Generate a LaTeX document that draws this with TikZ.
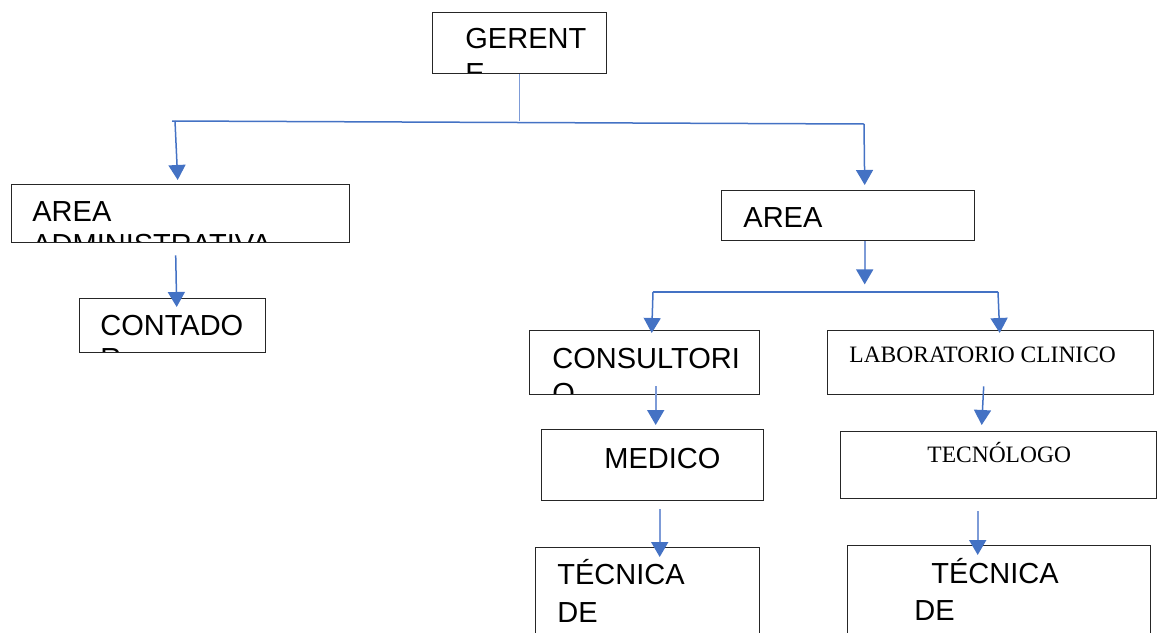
\documentclass[tikz,border=0pt]{standalone}
\usepackage{fontspec}
\setmainfont{Liberation Sans}
\newfontfamily\fuenteserif{Liberation Serif}
\usetikzlibrary{arrows.meta,positioning}
\definecolor{azul}{RGB}{68,114,196}
\definecolor{azulclaro}{RGB}{125,155,215}
\begin{document}
\begin{tikzpicture}[x=1pt,y=-1pt,
    caja/.style={draw=black!85,line width=1.4pt,inner sep=0pt,anchor=north west},
    texto/.style={draw=none,minimum width=0pt,minimum height=0pt,anchor=base west,inner sep=0pt,font=\fontsize{29pt}{35pt}\selectfont},
    textoserif/.style={texto,font=\fuenteserif\fontsize{23.5pt}{28pt}\selectfont},
    linea/.style={draw=azul,line width=1.5pt},
    flecha/.style={linea,-{Triangle[width=17pt,length=15pt,color=azul]}},
    flechaclara/.style={draw=azulclaro,line width=1.8pt,-{Triangle[width=17pt,length=15pt,color=azul]}}]
  \clip (0,0) rectangle (1158,632);

  % cajas
  \node[caja,minimum width=174pt,minimum height=61pt,path picture={
      \node[texto] at ([shift={(32,36)}]path picture bounding box.north west) {GERENT};
      \node[texto] at ([shift={(32,71)}]path picture bounding box.north west) {E};}] (gerente) at (432,12) {};
  \node[caja,minimum width=338pt,minimum height=58pt,path picture={
      \node[texto] at ([shift={(20,37)}]path picture bounding box.north west) {AREA};
      \node[texto] at ([shift={(20,70)}]path picture bounding box.north west) {ADMINISTRATIVA};}] (admin) at (11,184) {};
  \node[caja,minimum width=186pt,minimum height=54pt,path picture={
      \node[texto] at ([shift={(20,37)}]path picture bounding box.north west) {CONTADO};
      \node[texto] at ([shift={(20,70)}]path picture bounding box.north west) {R};}] (contador) at (79,298) {};
  \node[caja,minimum width=253pt,minimum height=50pt,path picture={
      \node[texto] at ([shift={(21,37)}]path picture bounding box.north west) {AREA};}] (area) at (721,190) {};
  \node[caja,minimum width=230pt,minimum height=64pt,path picture={
      \node[texto] at ([shift={(22,38)}]path picture bounding box.north west) {CONSULTORI};
      \node[texto] at ([shift={(22,73)}]path picture bounding box.north west) {O};}] (consultorio) at (529,330) {};
  \node[caja,minimum width=326pt,minimum height=64pt,path picture={
      \node[textoserif] at ([shift={(21,32)}]path picture bounding box.north west) {LABORATORIO CLINICO};}] (laboratorio) at (827,330) {};
  \node[caja,minimum width=222pt,minimum height=71pt,path picture={
      \node[texto] at ([shift={(62,39)}]path picture bounding box.north west) {MEDICO};}] (medico) at (541,429) {};
  \node[caja,minimum width=316pt,minimum height=67pt,path picture={
      \node[textoserif] at ([shift={(86,31)}]path picture bounding box.north west) {TECNÓLOGO};}] (tecnologo) at (840,431) {};
  \node[caja,minimum width=224pt,minimum height=110pt,path picture={
      \node[texto] at ([shift={(21,37)}]path picture bounding box.north west) {TÉCNICA};
      \node[texto] at ([shift={(21,75)}]path picture bounding box.north west) {DE};}] (tecnica1) at (535,547) {};
  \node[caja,minimum width=303pt,minimum height=110pt,path picture={
      \node[texto] at ([shift={(83,38)}]path picture bounding box.north west) {TÉCNICA};
      \node[texto] at ([shift={(66,75)}]path picture bounding box.north west) {DE};}] (tecnica2) at (847,545) {};

  % ramas
  \coordinate (busL) at (172,121);
  \coordinate (busR) at (864,124);
  \coordinate (bus2L) at (653,292);
  \coordinate (bus2R) at (998,292);

  \draw[linea,draw=azulclaro] (gerente.south) -- (gerente.south |- busL);
  \draw[linea] (busL) -- (busR);
  \draw[flecha] ([shift={(3,0)}]busL) -- ([shift={(-3,-4)}]admin.north);
  \draw[flecha] (busR) -- ([shift={(16.5,-5)}]area.north);
  \draw[flecha] ([shift={(-5,12)}]admin.south) -- ([shift={(4,9)}]contador.north);
  \draw[flechaclara] ([shift={(16.5,0)}]area.south) -- ([shift={(16.5,43)}]area.south);
  \draw[linea] (bus2L) -- (bus2R);
  \draw[flecha] (bus2L) -- ([shift={(7,3)}]consultorio.north);
  \draw[flecha] (bus2R) -- ([shift={(9,3)}]laboratorio.north);
  \draw[flechaclara] ([shift={(11,-9)}]consultorio.south) -- ([shift={(3,-4)}]medico.north);
  \draw[flecha] ([shift={(-7,-9)}]laboratorio.south) -- ([shift={(-17,-6)}]tecnologo.north);
  \draw[flechaclara] ([shift={(7,8)}]medico.south) -- ([shift={(12,10)}]tecnica1.north);
  \draw[flechaclara] ([shift={(-21,12)}]tecnologo.south) -- ([shift={(-21.5,10)}]tecnica2.north);
\end{tikzpicture}
\end{document}
